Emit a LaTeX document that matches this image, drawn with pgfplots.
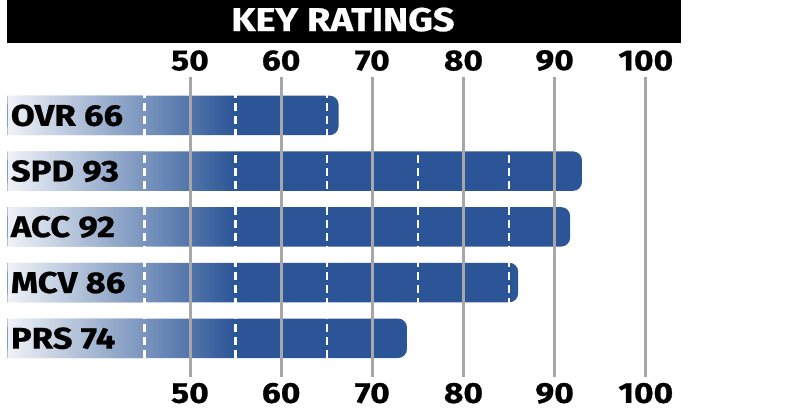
\documentclass[border=0pt]{standalone}
\usepackage{pgfplots}
\pgfplotsset{compat=1.18}
\usetikzlibrary{fadings}
\usepackage{fontspec}
\setmainfont{Fira Sans}[FakeStretch=1.16, BoldFeatures={FakeBold=0.8}]
\definecolor{barblue}{HTML}{2B5597}
\definecolor{gridgray}{HTML}{A7A7A9}
\begin{document}
\begin{tikzpicture}[x=1bp,y=1bp]
\path[use as bounding box] (0,0) rectangle (785,415);
\fill[black] (7,415) rectangle (681,372.3);
\node[anchor=base, text=white, inner sep=0pt, font=\fontsize{33}{33}\selectfont\bfseries] at (343,384) {KEY RATINGS};
\begin{axis}[
  at={(7.7bp,338bp)}, anchor=north west,
  scale only axis, width=638.1bp, height=299.7bp,
  xmin=30, xmax=100, ymin=-0.69, ymax=4.69, y dir=reverse,
  axis on top,
  axis x line*=bottom, axis y line*=left,
  axis line style={draw=none},
  xtick={50,60,70,80,90,100},
  minor xtick={45,55,65,75,85,95},
  xmajorgrids, xminorgrids,
  major grid style={gridgray, line width=3bp},
  minor grid style={white, line width=2.5bp, dash pattern=on 8bp off 5bp},
  major tick length=0pt, minor tick length=0pt,
  ytick={0,1,2,3,4},
  yticklabels={OVR 66, SPD 93, ACC 92, MCV 86, PRS 74},
  yticklabel style={anchor=west, inner sep=0pt, xshift=3bp, font=\fontsize{30}{30}\selectfont\bfseries},
  xticklabel style={anchor=north, inner sep=0pt, yshift=-6bp, font=\fontsize{29}{29}\selectfont\bfseries},
  /pgf/number format/assume math mode=true,
]
% rating bars (rounded right end)
\addplot[xbar, bar shift=0pt, bar width=39.5bp, fill=barblue, draw=none, rounded corners=9bp]
  coordinates {(66.3,0) (93,1) (91.7,2) (86,3) (73.8,4)};
% square left part of each bar
\addplot[xbar, bar shift=0pt, bar width=39.5bp, fill=barblue, draw=none, forget plot]
  coordinates {(45,0) (45,1) (45,2) (45,3) (45,4)};
% light-to-blue gradient on the left
\addplot[draw=none, fill=white, fill opacity=0.93, path fading=east, forget plot]
  coordinates {(30,-0.69) (55,-0.69) (55,4.69) (30,4.69)};
\end{axis}
\begin{axis}[
  at={(7.7bp,338bp)}, anchor=north west,
  scale only axis, width=638.1bp, height=299.7bp,
  xmin=30, xmax=100, ymin=-0.69, ymax=4.69, y dir=reverse,
  axis x line*=top, axis y line=none,
  axis line style={draw=none},
  xtick={50,60,70,80,90,100},
  major tick length=0pt,
  xticklabel style={anchor=south, inner sep=0pt, yshift=6bp, font=\fontsize{29}{29}\selectfont\bfseries},
  /pgf/number format/assume math mode=true,
]
\addplot[draw=none] coordinates {(50,0)};
\end{axis}
\end{tikzpicture}
\end{document}
